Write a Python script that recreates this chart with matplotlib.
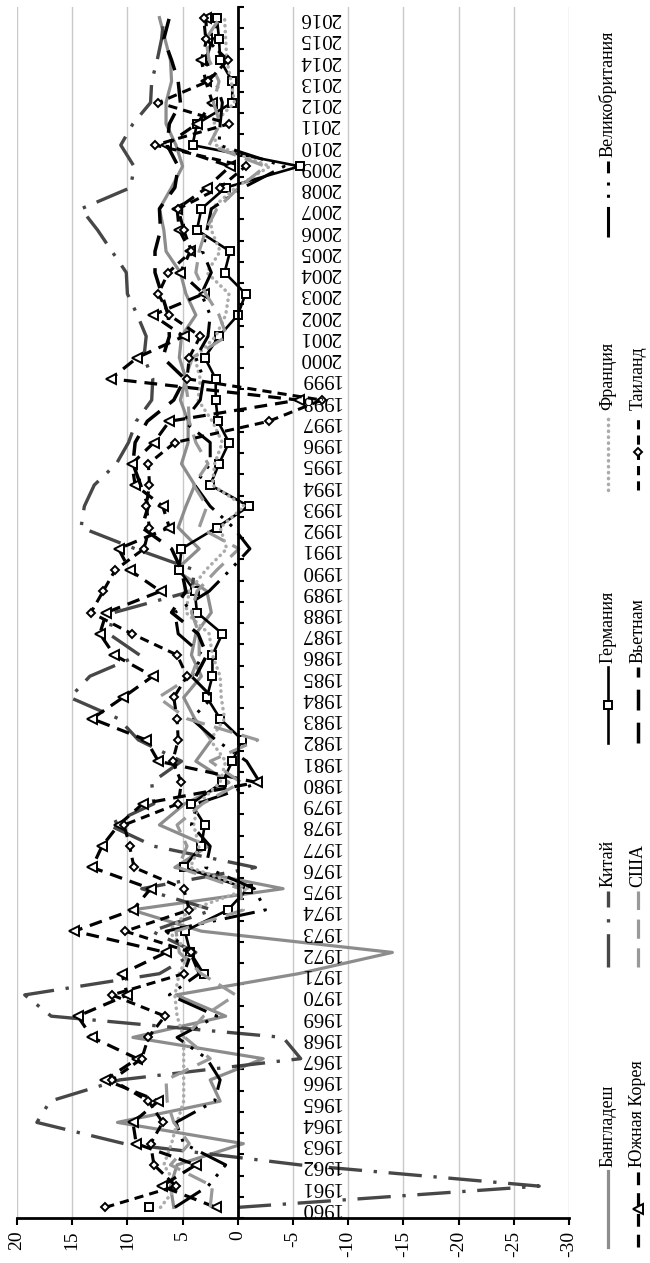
import numpy as np
import matplotlib
matplotlib.use('Agg')
import matplotlib.pyplot as plt
from matplotlib.lines import Line2D

plt.rcParams['font.family'] = ['Liberation Serif', 'DejaVu Serif']

nan = np.nan
years = list(range(1960, 2017))

bangladesh = [5.8, 6.1, 5.5, -0.5, 10.9, 1.6, 2.5, -2.3, 9.5, 1.1,
              5.6, -5.5, -14.0, 3.3, 9.6, -4.1, 5.7, 2.7, 7.1, 4.8,
              0.8, 3.8, 2.4, 3.9, 4.9, 3.3, 4.2, 3.8, 2.4, 2.8,
              5.6, 3.5, 5.4, 4.7, 3.9, 5.1, 4.5, 4.5, 5.2, 4.7,
              5.3, 5.1, 3.8, 4.7, 5.2, 6.5, 6.7, 7.1, 6.0, 5.0,
              5.6, 6.5, 6.5, 6.0, 6.1, 6.6, 7.1]
china = [0.0, -27.3, -5.6, 10.3, 18.2, 17.0, 10.7, -5.7, -4.1, 16.9,
         19.3, 7.1, 3.8, 7.8, 2.3, 8.7, -1.6, 7.6, 11.7, 7.6,
         7.8, 5.1, 9.0, 10.8, 15.2, 13.4, 8.9, 11.7, 11.2, 4.2,
         3.9, 9.3, 14.2, 13.9, 13.0, 11.0, 9.9, 9.2, 7.8, 7.7,
         8.5, 8.3, 9.1, 10.0, 10.1, 11.4, 12.7, 14.2, 9.7, 9.4,
         10.6, 9.5, 7.9, 7.8, 7.3, 6.9, 6.7]
germany = [8.0, nan, nan, nan, nan, nan, nan, nan, nan, nan,
           nan, 3.1, 4.3, 4.8, 0.9, -0.9, 4.9, 3.3, 3.0, 4.2,
           1.4, 0.5, -0.4, 1.6, 2.8, 2.3, 2.3, 1.4, 3.7, 3.9,
           5.3, 5.1, 1.9, -1.0, 2.5, 1.7, 0.8, 1.8, 2.0, 2.0,
           3.0, 1.7, 0.0, -0.7, 1.2, 0.7, 3.7, 3.3, 1.1, -5.6,
           4.1, 3.7, 0.5, 0.5, 1.6, 1.7, 1.9]
france = [7.0, 5.5, 6.7, 6.0, 5.5, 4.9, 4.9, 4.9, 4.9, 5.5,
          5.7, 5.3, 4.4, 6.3, 4.3, -1.0, 4.3, 3.5, 4.0, 3.6,
          1.6, 1.1, 2.5, 1.2, 1.5, 1.6, 2.3, 2.6, 4.7, 4.4,
          2.9, 1.0, 1.6, -0.6, 2.3, 2.1, 1.4, 2.3, 3.6, 3.4,
          3.9, 2.0, 1.1, 0.8, 2.8, 1.6, 2.4, 2.4, 0.2, -2.9,
          2.0, 2.2, 0.3, 0.6, 1.0, 1.1, 1.2]
uk = [5.7, 2.7, 1.1, 4.9, 5.6, 2.1, 1.6, 2.8, 5.5, 1.9,
      6.2, 3.5, 4.3, 6.5, -2.5, -1.5, 2.9, 2.5, 4.2, 3.7,
      -2.0, -0.8, 2.0, 4.2, 2.3, 4.2, 3.2, 5.4, 5.7, 2.6,
      0.7, -1.1, 0.4, 2.5, 3.9, 2.5, 2.5, 4.9, 3.4, 3.1,
      3.8, 2.7, 2.5, 3.3, 2.4, 3.2, 2.8, 2.4, -0.5, -4.2,
      1.7, 1.6, 1.4, 2.0, 2.9, 2.3, 1.8]
korea = [2.0, 6.9, 3.8, 9.2, 9.5, 7.2, 12.0, 9.1, 13.2, 14.5,
         10.0, 10.5, 6.5, 14.8, 9.5, 7.9, 13.2, 12.3, 10.8, 8.6,
         -1.7, 7.2, 8.3, 13.2, 10.4, 7.7, 11.2, 12.5, 11.9, 7.0,
         9.8, 10.8, 6.2, 6.8, 9.3, 9.6, 7.6, 6.2, -5.5, 11.5,
         9.1, 4.9, 7.7, 3.1, 5.2, 4.3, 5.3, 5.5, 2.8, 0.7,
         6.5, 3.7, 2.3, 2.9, 3.3, 2.8, 2.9]
usa = [2.5, 2.3, 6.1, 4.4, 5.8, 6.4, 6.5, 2.5, 4.8, 3.1,
       0.2, 3.3, 5.3, 5.6, -0.5, -0.2, 5.4, 4.6, 5.5, 3.2,
       -0.3, 2.5, -1.8, 4.6, 7.2, 4.2, 3.5, 3.5, 4.2, 3.7,
       1.9, -0.1, 3.5, 2.8, 4.0, 2.7, 3.8, 4.4, 4.5, 4.8,
       4.1, 1.0, 1.7, 2.9, 3.8, 3.5, 2.9, 1.9, -0.1, -2.5,
       2.6, 1.6, 2.2, 1.7, 2.6, 2.9, 1.6]
vietnam = [nan] * 25 + [3.8, 2.8, 3.6, 6.0, 4.7,
                        5.1, 6.0, 8.7, 8.1, 8.8, 9.5, 9.3, 8.2, 5.8, 4.8,
                        6.8, 6.2, 6.3, 6.9, 7.5, 7.5, 7.0, 7.1, 5.7, 5.4,
                        6.4, 6.2, 5.2, 5.4, 6.0, 6.7, 6.2]
thailand = [12.0, 5.6, 7.6, 7.9, 6.8, 8.1, 11.4, 8.7, 8.1, 6.6,
            11.4, 4.9, 4.2, 10.2, 4.4, 4.9, 9.4, 9.8, 10.3, 5.4,
            5.1, 5.9, 5.4, 5.5, 5.8, 4.6, 5.5, 9.6, 13.3, 12.2,
            11.1, 8.5, 8.0, 8.3, 8.0, 8.1, 5.7, -2.8, -7.6, 4.6,
            4.4, 3.4, 6.2, 7.2, 6.3, 4.2, 4.9, 5.4, 1.6, -0.7,
            7.5, 0.8, 7.2, 2.7, 0.9, 2.9, 3.1]

names = ['Бангладеш', 'Китай', 'Германия', 'Франция', 'Великобритания',
         'Южная Корея', 'США', 'Вьетнам', 'Таиланд']
values = [bangladesh, china, germany, france, uk, korea, usa, vietnam, thailand]

hollow = dict(mfc='white', mec='black', mew=1.4)
styles = [
    dict(color='#8c8c8c', lw=2.3, ls='-'),
    dict(color='#474747', lw=2.4, dashes=(10, 3.5, 1, 3.5)),
    dict(color='black', lw=1.9, ls='-', marker='s', ms=6, **hollow),
    dict(color='#ababab', lw=2.5, dashes=(0.1, 1.6), dash_capstyle='round'),
    dict(color='black', lw=2.2, dashes=(10, 3, 1, 3, 1, 3)),
    dict(color='black', lw=2.3, dashes=(4, 2.5), marker='<', ms=6.5, **hollow),
    dict(color='#999999', lw=2.3, dashes=(6, 3)),
    dict(color='black', lw=2.5, dashes=(6, 3.5)),
    dict(color='black', lw=2.2, dashes=(3, 2), marker='D', ms=4.5, **hollow),
]

W, H = 650, 1263
fig = plt.figure(figsize=(W / 100, H / 100), dpi=100)
ax = fig.add_axes([17 / W, 1 - 1218 / H, (569 - 17) / W, (1218 - 7) / H])

pos = np.arange(len(years))
for vals, st in zip(values, styles):
    ax.plot(vals, pos, **st)

ax.set_xlim(20, -30)
ax.set_ylim(-0.5, len(years) - 0.5)

ticks = np.arange(-30, 21, 5)
ax.set_xticks(ticks)
ax.set_xticklabels([str(t) for t in ticks], rotation=90, fontsize=14)
ax.grid(axis='x', color='#c8c8c8', lw=1)
ax.set_axisbelow(True)
ax.tick_params(axis='x', direction='out', length=5, width=1.5, pad=4)

ax.set_yticks(np.arange(-0.5, len(years), 1))
ax.tick_params(axis='y', direction='in', length=4, width=1.5, labelleft=False)
ax.spines['left'].set_position(('data', 0))
ax.spines['left'].set_linewidth(2)
ax.spines['bottom'].set_linewidth(2)
ax.spines['top'].set_visible(False)
ax.spines['right'].set_visible(False)

for p, yr in zip(pos, years):
    ax.text(-7.45, p, str(yr), rotation=180, ha='center', va='center', fontsize=15)

# legend, drawn by hand because the whole chart is turned on its side
rows_x = [608, 638]
starts = [1247, 967, 743, 490, 237]
seg = 76
for k, (name, st) in enumerate(zip(names, styles)):
    row, col = (0, k) if k < 5 else (1, k - 5)
    x = rows_x[row] / W
    y0 = starts[col]
    line_st = {kk: vv for kk, vv in st.items() if kk not in ('marker', 'ms', 'mfc', 'mec', 'mew')}
    fig.add_artist(Line2D([x, x], [1 - y0 / H, 1 - (y0 - seg) / H],
                          transform=fig.transFigure, **line_st))
    if 'marker' in st:
        mk = {kk: vv for kk, vv in st.items() if kk in ('marker', 'ms', 'mfc', 'mec', 'mew')}
        fig.add_artist(Line2D([x], [1 - (y0 - seg / 2) / H], transform=fig.transFigure,
                              ls='none', **mk))
    fig.text(x, 1 - (y0 - seg - 4) / H, name, rotation=90, ha='center', va='bottom',
             fontsize=13)

fig.savefig('out.png', dpi=100)
